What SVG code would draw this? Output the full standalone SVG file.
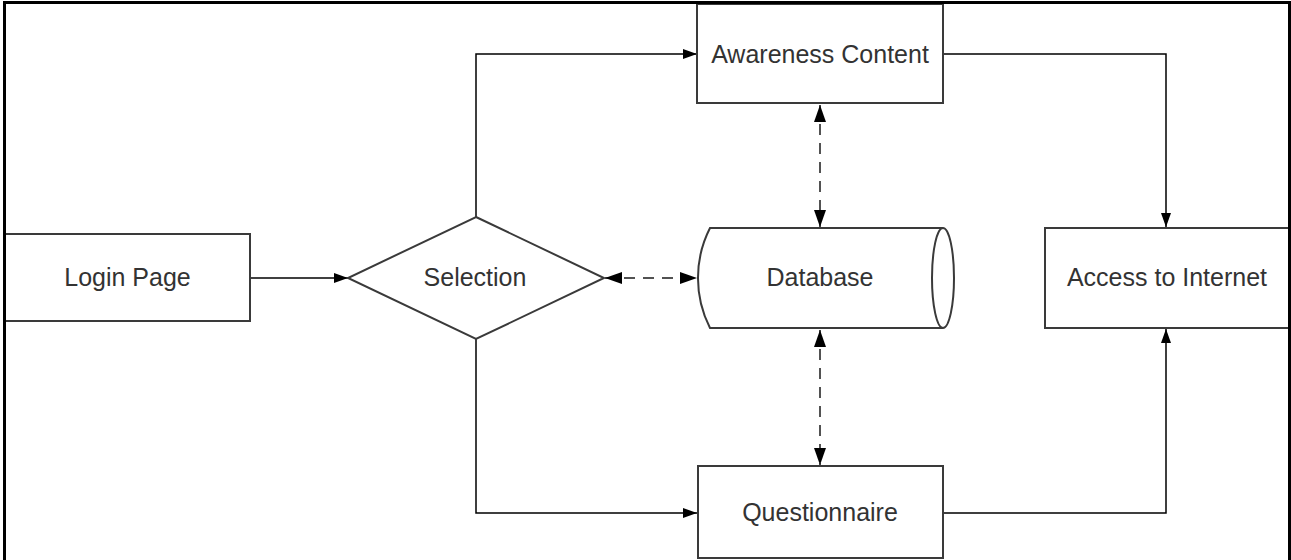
<svg xmlns="http://www.w3.org/2000/svg" width="1291" height="560" viewBox="0 0 1291 560">
<style>
.box{fill:#fff;stroke:#3a3a3a;stroke-width:2}
.lbl{font-family:"Liberation Sans",Arial,sans-serif;font-size:25px;fill:#333;text-anchor:middle}
.con{fill:none;stroke:#000;stroke-width:1.5}
.dash{fill:none;stroke:#1a1a1a;stroke-width:1.5;stroke-dasharray:11,8}
</style>
<defs>
<marker id="ah" viewBox="0 0 14 10" refX="14" refY="5" markerWidth="14" markerHeight="10" markerUnits="userSpaceOnUse" orient="auto-start-reverse">
<path d="M0,0 L14,5 L0,10 Z" fill="#000"/>
</marker>
<marker id="ahd" viewBox="0 0 17 12" refX="17" refY="6" markerWidth="17" markerHeight="12" markerUnits="userSpaceOnUse" orient="auto-start-reverse">
<path d="M0,0 L17,6 L0,12 Z" fill="#000"/>
</marker>
</defs>
<rect width="1291" height="560" fill="#fff"/>
<g id="connectors">
<path class="con" d="M250,278 H348" marker-end="url(#ah)"/>
<path class="con" d="M476,217 V54 H697" marker-end="url(#ah)"/>
<path class="con" d="M476,339 V513 H697" marker-end="url(#ah)"/>
<path class="con" d="M943,54 H1166 V227" marker-end="url(#ah)"/>
<path class="con" d="M943,513 H1166 V329" marker-end="url(#ah)"/>
<path class="dash" d="M605,278 H697" marker-start="url(#ahd)" marker-end="url(#ahd)"/>
<path class="dash" d="M820,105 V227" marker-start="url(#ahd)" marker-end="url(#ahd)"/>
<path class="dash" d="M820,330 V465" marker-start="url(#ahd)" marker-end="url(#ahd)"/>
</g>
<g id="login">
<rect class="box" x="5" y="234" width="245" height="87"/>
<text class="lbl" x="127.5" y="286">Login Page</text>
</g>
<g id="selection">
<polygon class="box" points="476,217 604,278 476,339 348,278"/>
<text class="lbl" x="475" y="286">Selection</text>
</g>
<g id="awareness">
<rect class="box" x="697" y="4" width="246" height="99"/>
<text class="lbl" x="820" y="63">Awareness Content</text>
</g>
<g id="database">
<path class="box" d="M710,228 H943 A11,50 0 0 1 943,328 H710 A110,110 0 0 1 710,228 Z"/>
<path class="box" fill="none" d="M943,228 A11,50 0 0 0 943,328"/>
<text class="lbl" x="820" y="286">Database</text>
</g>
<g id="access">
<rect class="box" x="1045" y="228" width="244" height="100"/>
<text class="lbl" x="1167" y="286">Access to Internet</text>
</g>
<g id="questionnaire">
<rect class="box" x="698" y="466" width="245" height="92"/>
<text class="lbl" x="820" y="521">Questionnaire</text>
</g>
<path d="M4.5,562 V2.5 H1289.5 V562" fill="none" stroke="#000" stroke-width="3"/>
</svg>
